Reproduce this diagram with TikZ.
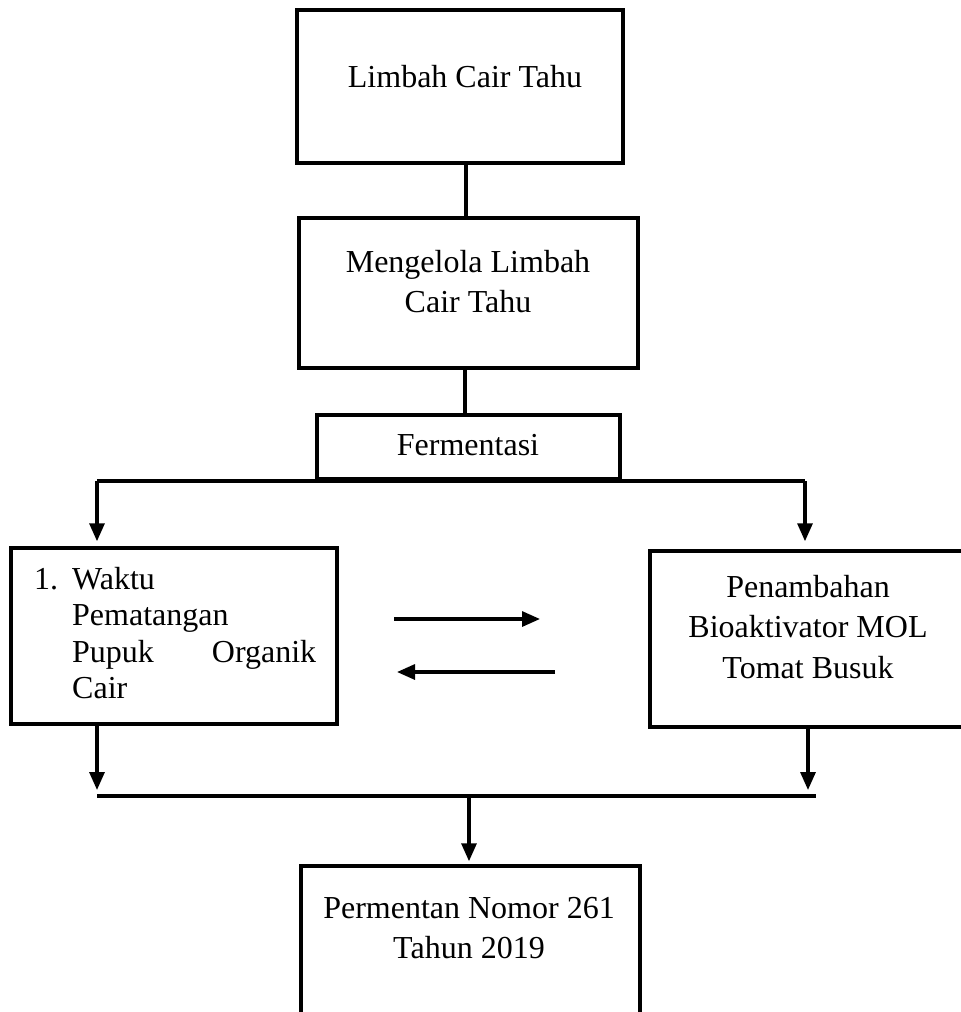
\documentclass[tikz,border=0pt]{standalone}
\usepackage{fontspec}
\setmainfont{Liberation Serif}
\usetikzlibrary{arrows.meta}
\begin{document}
\begin{tikzpicture}[x=1pt,y=-1pt,
  box/.style={draw, line width=3.5pt, inner sep=0pt},
  txt/.style={font=\fontsize{32}{40}\selectfont, inner sep=0pt, align=center},
  conn/.style={line width=3.2pt},
  arr/.style={line width=3.2pt, -{Triangle[width=15pt,length=18pt]}},
  bus/.style={line width=4.5pt}]
\clip (0,0) rectangle (961,1012);
% boxes
\node[box, minimum width=326pt, minimum height=153pt] (b1) at (460,86.5) {};
\node[box, minimum width=339pt, minimum height=150pt] (b2) at (468.5,293) {};
\node[box, minimum width=303pt, minimum height=64pt] (fer) at (468.5,447) {};
\node[box, minimum width=326pt, minimum height=176pt] (b3) at (174,636) {};
\node[box, minimum width=400pt, minimum height=176pt] (b4) at (850,639) {};
\node[box, minimum width=339pt, minimum height=200pt] (b5) at (470.5,966) {};
% texts
\node[txt, anchor=base] (t1) at (465,87) {Limbah Cair Tahu};
\node[txt, anchor=base] (t2) at (468,312) {Mengelola Limbah\\Cair Tahu};
\node[txt, anchor=base] (tf) at (468,455) {Fermentasi};
\node[txt, anchor=base west, align=left, text width=282pt,
      font=\fontsize{32}{36.5}\selectfont] (t3) at (34,589)
  {\makebox[38pt][l]{1.}Waktu\\
   \hspace*{38pt}Pematangan\\
   \hspace*{38pt}Pupuk\hfill Organik\\
   \hspace*{38pt}Cair};
\node[txt, anchor=base, font=\fontsize{32}{40.5}\selectfont] (t4) at (808,678) {Penambahan\\Bioaktivator MOL\\Tomat Busuk};
\node[txt, anchor=base] (t5) at (469,958) {Permentan Nomor 261\\Tahun 2019};
% connectors top
\draw[conn] ([xshift=6pt]b1.south) -- ([xshift=-2.5pt]b2.north);
\draw[conn] ([xshift=-3.5pt]b2.south) -- ([xshift=-3.5pt]fer.north);
% split bus
\coordinate (sL) at (97,481);
\coordinate (sR) at (805,481);
\draw[bus] (sL) -- (sR);
\draw[arr, shorten >=5pt] (sL) -- (sL |- b3.north);
\draw[arr, shorten >=8pt] (sR) -- (sR |- b4.north);
% middle arrows
\coordinate (m1s) at (394,619);
\coordinate (m1e) at (540,619);
\coordinate (m2s) at (555,672);
\coordinate (m2e) at (397,672);
\draw[arr] (m1s) -- (m1e);
\draw[arr] (m2s) -- (m2e);
% join bus
\coordinate (jL) at (97,796);
\coordinate (jR) at (816,796);
\coordinate (jM) at (469,796);
\coordinate (jRa) at (808,790);
\draw[arr] (b3.south -| jL) -- ([yshift=6pt]jL);
\draw[arr] (b4.south -| jRa) -- (jRa);
\draw[bus] (jL) -- (jR);
\draw[arr, shorten >=3pt] (jM) -- (jM |- b5.north);
\end{tikzpicture}
\end{document}
